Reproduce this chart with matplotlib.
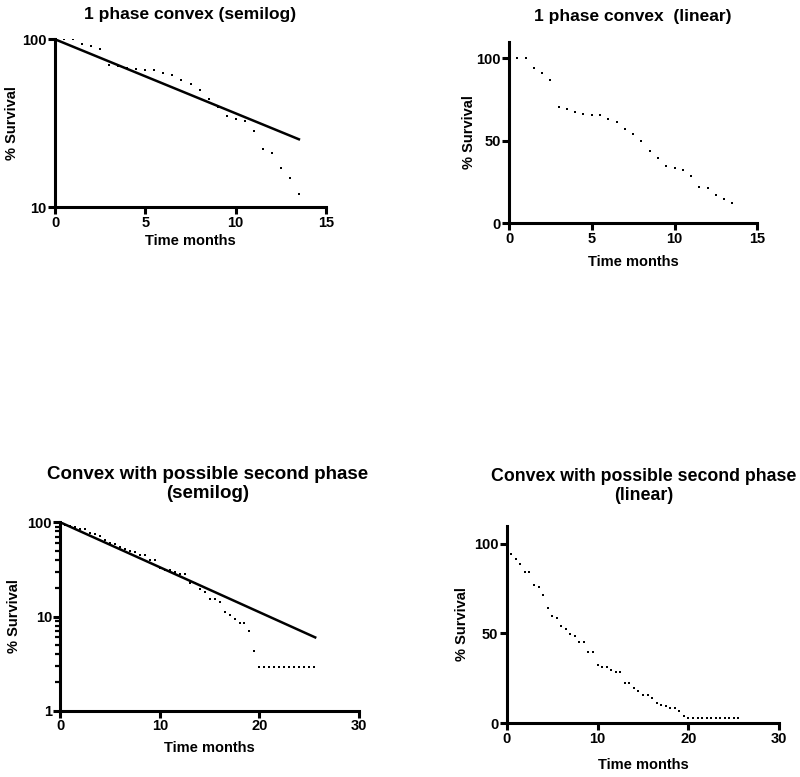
import matplotlib
matplotlib.use("Agg")
import matplotlib.pyplot as plt
from matplotlib.ticker import FixedLocator, NullLocator, LogLocator, NullFormatter

plt.rcParams['font.family'] = ['Liberation Sans', 'DejaVu Sans']
plt.rcParams['font.weight'] = 'bold'

# Datos: 1 fase convexa
t1 = [0.5, 1.0, 1.5, 2.0, 2.5, 3.0, 3.5, 4.0, 4.5, 5.0, 5.5, 6.0, 6.5, 7.0,
      7.5, 8.0, 8.5, 9.0, 9.5, 10.0, 10.5, 11.0, 11.5, 12.0, 12.5, 13.0, 13.5]
s1 = [100, 100, 94, 91, 87, 70.5, 69.5, 67.5, 66.3, 65.4, 65.4, 63.4, 61.2, 57.1,
      53.9, 49.8, 43.9, 39.8, 34.8, 33.5, 32.5, 28.5, 22.2, 21.1, 17.1, 15, 12]
fit1_t = [0, 13.5]
fit1_s = [100, 25.4]

# Datos: convexa con posible segunda fase
t2 = [0.5, 1.0, 1.5, 2.0, 2.5, 3.0, 3.5, 4.0, 4.5, 5.0, 5.5, 6.0, 6.5, 7.0,
      7.5, 8.0, 8.5, 9.0, 9.5, 10.0, 10.5, 11.0, 11.5, 12.0, 12.5, 13.0, 13.5,
      14.0, 14.5, 15.0, 15.5, 16.0, 16.5, 17.0, 17.5, 18.0, 18.5, 19.0, 19.5,
      20.0, 20.5, 21.0, 21.5, 22.0, 22.5, 23.0, 23.5, 24.0, 24.5, 25.0, 25.5]
s2 = [94.4, 91.6, 88.8, 84.5, 84.5, 77.2, 75.7, 71.2, 64.3, 60.0, 58.5, 54.2, 52.7, 49.9,
      48.4, 45.4, 45.4, 39.8, 39.8, 32.7, 31.2, 31.2, 29.7, 28.4, 28.4, 22.6, 22.6,
      19.8, 18.2, 15.5, 15.5, 14.1, 11.3, 10.4, 9.4, 8.5, 8.5, 7.0, 4.3,
      2.9, 2.9, 2.9, 2.9, 2.9, 2.9, 2.9, 2.9, 2.9, 2.9, 2.9, 2.9]
fit2_t = [0, 25.6]
fit2_s = [100, 6.0]

W, H = 800, 777
fig = plt.figure(figsize=(W / 100, H / 100), dpi=100)


def caja(left, right, top, bottom):
    return [left / W, 1 - bottom / H, (right - left) / W, (bottom - top) / H]


def estilo(ax, xpad, ylx):
    for lado in ['top', 'right']:
        ax.spines[lado].set_visible(False)
    for lado in ['left', 'bottom']:
        ax.spines[lado].set_linewidth(2.2)
    ax.tick_params(which='major', width=2.2, length=5, labelsize=10.5, pad=1)
    ax.tick_params(which='minor', width=1.6, length=3.5)
    for lab in ax.get_xticklabels() + ax.get_yticklabels():
        lab.set_fontweight('bold')
    ax.set_xlabel("Time months", fontsize=10.5, fontweight='bold', labelpad=xpad)
    ax.set_ylabel("% Survival", fontsize=10.5, fontweight='bold')
    ax.yaxis.set_label_coords(ylx, 0.5)


puntos = dict(marker='s', markersize=1.5, markeredgewidth=0, color='black', linestyle='none')

# Panel 1: semilog
ax1 = fig.add_axes(caja(55, 326, 39.3, 207.3))
ax1.plot(t1, s1, **puntos)
ax1.plot(fit1_t, fit1_s, color='black', linewidth=1.8)
ax1.set_yscale('log')
ax1.set_xlim(0, 15)
ax1.set_ylim(10, 100)
ax1.yaxis.set_major_locator(FixedLocator([10, 100]))
ax1.yaxis.set_minor_locator(NullLocator())
ax1.set_yticklabels(['10', '100'])
ax1.set_xticks([0, 5, 10, 15])
estilo(ax1, 3, -0.133)
fig.text(190 / W, 1 - 15 / H, "1 phase convex (semilog)", ha='center', va='center',
         fontsize=12.5, fontweight='bold')

# Panel 2: lineal
ax2 = fig.add_axes(caja(509, 757.3, 41.7, 223.3))
ax2.plot(t1, s1, **puntos)
ax2.set_xlim(0, 15)
ax2.set_ylim(0, 110)
ax2.set_xticks([0, 5, 10, 15])
ax2.set_yticks([0, 50, 100])
estilo(ax2, 7, -0.133)
fig.text(633 / W, 1 - 16 / H, "1 phase convex  (linear)", ha='center', va='center',
         fontsize=12.5, fontweight='bold')

# Panel 3: semilog
ax3 = fig.add_axes(caja(60.3, 359, 522.3, 710.7))
ax3.plot(t2, s2, **puntos)
ax3.plot(fit2_t, fit2_s, color='black', linewidth=1.8)
ax3.set_yscale('log')
ax3.set_xlim(0, 30)
ax3.set_ylim(1, 100)
ax3.yaxis.set_major_locator(FixedLocator([1, 10, 100]))
ax3.yaxis.set_minor_locator(LogLocator(base=10, subs=range(2, 10)))
ax3.yaxis.set_minor_formatter(NullFormatter())
ax3.set_yticklabels(['1', '10', '100'])
ax3.set_xticks([0, 10, 20, 30])
estilo(ax3, 6, -0.132)
fig.text(208 / W, 1 - 484 / H, "Convex with possible second phase\n(semilog)",
         ha='center', va='center', fontsize=13.5, fontweight='bold', linespacing=1.15)

# Panel 4: lineal
ax4 = fig.add_axes(caja(506.7, 779.3, 525.7, 723.3))
ax4.plot(t2, s2, **puntos)
ax4.set_xlim(0, 30)
ax4.set_ylim(0, 110)
ax4.set_xticks([0, 10, 20, 30])
ax4.set_yticks([0, 50, 100])
estilo(ax4, 9, -0.138)
fig.text(644 / W, 1 - 486 / H, "Convex with possible second phase\n(linear)",
         ha='center', va='center', fontsize=12.8, fontweight='bold', linespacing=1.15)

plt.savefig("out.png", dpi=100)
